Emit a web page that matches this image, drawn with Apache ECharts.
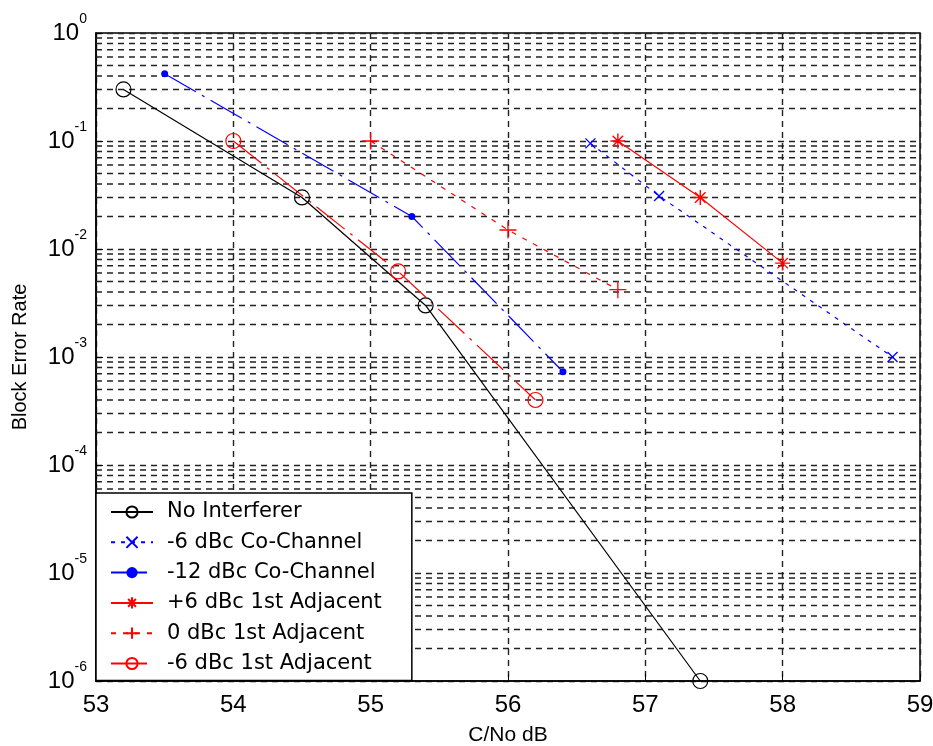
<!DOCTYPE html>
<html>
<head>
  <meta charset="UTF-8">
  <title>Block Error Rate</title>
  <script src="https://cdn.jsdelivr.net/npm/echarts@6/dist/echarts.min.js"></script>
  <style>
    * { margin: 0; padding: 0; }
    body { background: #fff; }
    #chart { width: 933px; height: 746px; }
  </style>
</head>
<body>
  <div id="chart"></div>
  <script>
    // values (x = C/No dB, y = block error rate)
    const noInterfererX = [53.2, 54.5, 55.4, 57.4];
    const noInterfererY = [0.3, 0.03, 0.003, 1e-6];
    const coCh6X = [56.6, 57.1, 58.8];
    const coCh6Y = [0.095, 0.031, 0.001];
    const coCh12X = [53.5, 55.3, 56.4];
    const coCh12Y = [0.42, 0.02, 0.00073];
    const adjP6X = [56.8, 57.4, 58.0];
    const adjP6Y = [0.1, 0.03, 0.0074];
    const adj0X = [55.0, 56.0, 56.8];
    const adj0Y = [0.1, 0.015, 0.0042];
    const adjM6X = [54.0, 55.2, 56.2];
    const adjM6Y = [0.1, 0.0062, 0.0004];

    const seriesNames = ['No Interferer', '-6 dBc Co-Channel', '-12 dBc Co-Channel',
      '+6 dBc 1st Adjacent', '0 dBc 1st Adjacent', '-6 dBc 1st Adjacent'];

    // log grid lines at 2..9 of each decade
    const mantissas = [2, 3, 4, 5, 6, 7, 8, 9];
    const decades = [1e-6, 1e-5, 1e-4, 1e-3, 1e-2, 1e-1];
    const xMin = 53, xMax = 59;
    const minorGridData = [];
    decades.forEach(d => mantissas.forEach(m => {
      minorGridData.push([xMin, m * d], [xMax, m * d], [xMin, '-']);
    }));

    const pairs = (xs, ys) => xs.map((x, i) => [x, ys[i]]);

    const FONT = 'DejaVu Sans';
    const AXFONT = 'Liberation Sans';
    const BLUE = '#0000ff';
    const RED = '#ff0000';
    const xMark = 'path://M0,0L10,10M10,0L0,10';
    const plusMark = 'path://M5,0L5,10M0,5L10,5';
    const starMark = 'path://M5,0L5,10M0,5L10,5M1.5,1.5L8.5,8.5M8.5,1.5L1.5,8.5';

    const gridDash = { color: '#222', width: 1.4, type: [6, 5] };

    const chart = echarts.init(document.getElementById('chart'));
    chart.setOption({
      animation: false,
      backgroundColor: '#fff',
      grid: {
        left: 96, top: 33, width: 824, height: 648,
        outerBoundsMode: 'none',
        show: true, borderColor: '#000', borderWidth: 1.5, backgroundColor: 'transparent'
      },
      xAxis: {
        type: 'value', min: xMin, max: xMax, interval: 1,
        name: 'C/No dB', nameLocation: 'middle', nameGap: 44,
        nameTextStyle: { fontFamily: AXFONT, fontSize: 21, color: '#000' },
        axisLine: { show: true, onZero: false, lineStyle: { color: '#000', width: 1.5 } },
        axisTick: { show: true, inside: true, length: 7, lineStyle: { color: '#000' } },
        axisLabel: { fontFamily: AXFONT, fontSize: 24, color: '#000', margin: 12 },
        splitLine: { show: true, lineStyle: gridDash }
      },
      yAxis: {
        type: 'log', logBase: 10, min: 1e-6, max: 1,
        name: 'Block Error Rate', nameLocation: 'middle', nameGap: 66,
        nameTextStyle: { fontFamily: AXFONT, fontSize: 20, color: '#000' },
        axisLine: { show: true, lineStyle: { color: '#000', width: 1.5 } },
        axisTick: { show: true, inside: true, length: 7, lineStyle: { color: '#000' } },
        axisLabel: {
          margin: 9,
          formatter: v => '{b|10}{e|' + Math.round(Math.log10(v)) + '}',
          rich: {
            b: { fontFamily: AXFONT, fontSize: 24, lineHeight: 24, color: '#000' },
            e: { fontFamily: AXFONT, fontSize: 14, lineHeight: 14, color: '#000', padding: [0, 0, 28, 0] }
          }
        },
        splitLine: { show: true, lineStyle: gridDash }
      },
      legend: {
        orient: 'vertical', left: 96, top: 493,
        data: seriesNames,
        backgroundColor: '#fff', borderColor: '#000', borderWidth: 1.5,
        padding: [8, 30, 6, 14],
        itemWidth: 42, itemHeight: 14, itemGap: 8.3,
        textStyle: { fontFamily: FONT, fontSize: 21, color: '#000', lineHeight: 22, padding: [0, 0, 0, 9] }
      },
      series: [
        {
          name: 'minor grid', type: 'line', data: minorGridData,
          silent: true, symbol: 'none', z: 1, connectNulls: false,
          lineStyle: gridDash
        },
        {
          name: seriesNames[0], type: 'line', data: pairs(noInterfererX, noInterfererY),
          symbol: 'circle', symbolSize: 15,
          lineStyle: { color: '#000', width: 1.2 },
          itemStyle: { color: 'none', borderColor: '#000', borderWidth: 1.2 }
        },
        {
          name: seriesNames[1], type: 'line', data: pairs(coCh6X, coCh6Y),
          symbol: xMark, symbolSize: 10,
          lineStyle: { color: BLUE, width: 1.2, type: [4, 6] },
          itemStyle: { color: 'none', borderColor: BLUE, borderWidth: 1.3 }
        },
        {
          name: seriesNames[2], type: 'line', data: pairs(coCh12X, coCh12Y),
          symbol: 'circle', symbolSize: 7,
          lineStyle: { color: BLUE, width: 1.2, type: [36, 7, 3, 7] },
          itemStyle: { color: BLUE }
        },
        {
          name: seriesNames[3], type: 'line', data: pairs(adjP6X, adjP6Y),
          symbol: starMark, symbolSize: 15,
          lineStyle: { color: RED, width: 1.2 },
          itemStyle: { color: 'none', borderColor: RED, borderWidth: 1.4 }
        },
        {
          name: seriesNames[4], type: 'line', data: pairs(adj0X, adj0Y),
          symbol: plusMark, symbolSize: 17,
          lineStyle: { color: RED, width: 1.2, type: [5, 7] },
          itemStyle: { color: 'none', borderColor: RED, borderWidth: 1.3 }
        },
        {
          name: seriesNames[5], type: 'line', data: pairs(adjM6X, adjM6Y),
          symbol: 'circle', symbolSize: 15,
          lineStyle: { color: RED, width: 1.2, type: [36, 7, 3, 7] },
          itemStyle: { color: 'none', borderColor: RED, borderWidth: 1.2 }
        }
      ]
    });
  </script>
</body>
</html>
